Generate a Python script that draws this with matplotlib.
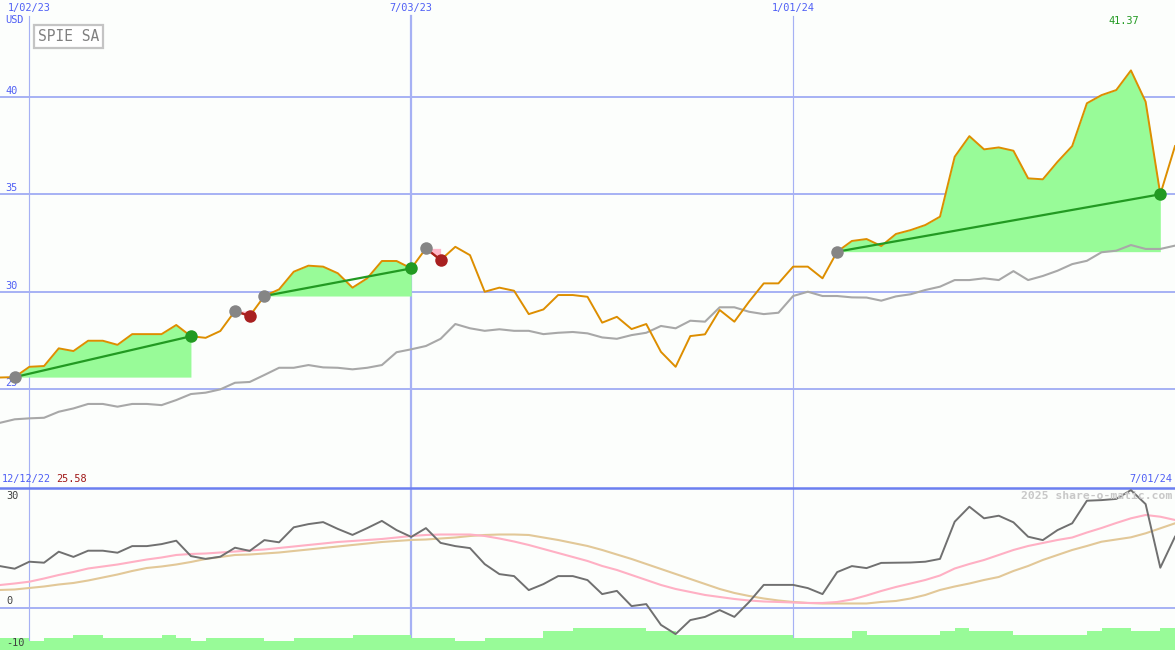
import matplotlib
matplotlib.use('Agg')
import matplotlib.pyplot as plt
import matplotlib.transforms as mtransforms
import numpy as np
import pandas as pd

# weekly closes, SPIE SA (USD)
dates = pd.date_range('2022-12-19', periods=81, freq='7D')

price = [25.58, 25.60, 26.13, 26.17, 27.08, 26.94, 27.47, 27.47, 27.26, 27.81,
         27.81, 27.81, 28.28, 27.70, 27.62, 27.97, 29.00, 28.74, 29.77, 30.11,
         31.02, 31.33, 31.28, 30.94, 30.20, 30.68, 31.57, 31.57, 31.19, 32.22,
         31.62, 32.30, 31.87, 29.99, 30.20, 30.04, 28.84, 29.08, 29.82, 29.82,
         29.73, 28.40, 28.70, 28.07, 28.33, 26.90, 26.13, 27.71, 27.80, 29.05,
         28.45, 29.48, 30.42, 30.42, 31.28, 31.28, 30.68, 32.05, 32.60, 32.70,
         32.34, 32.96, 33.16, 33.42, 33.85, 36.93, 37.99, 37.31, 37.41, 37.24,
         35.82, 35.77, 36.67, 37.48, 39.68, 40.10, 40.36, 41.37, 39.76, 35.00,
         37.48]

bench = [23.25, 23.43, 23.48, 23.51, 23.82, 23.99, 24.22, 24.22, 24.08, 24.22,
         24.22, 24.16, 24.42, 24.73, 24.80, 24.97, 25.31, 25.35, 25.71, 26.08,
         26.08, 26.22, 26.10, 26.08, 26.00, 26.08, 26.22, 26.88, 27.03, 27.20,
         27.57, 28.33, 28.11, 27.98, 28.06, 27.98, 27.98, 27.81, 27.88, 27.92,
         27.85, 27.64, 27.57, 27.76, 27.88, 28.23, 28.11, 28.50, 28.45, 29.19,
         29.19, 28.96, 28.84, 28.91, 29.77, 29.99, 29.77, 29.77, 29.70, 29.69,
         29.53, 29.75, 29.86, 30.08, 30.25, 30.59, 30.59, 30.68, 30.59, 31.05,
         30.59, 30.80, 31.07, 31.41, 31.58, 32.02, 32.10, 32.39, 32.19, 32.19,
         32.36]

osc = [10.4, 9.75, 11.5, 11.25, 14.0, 12.7, 14.25, 14.25, 13.75, 15.4,
       15.4, 15.9, 16.75, 12.9, 12.2, 12.75, 15.0, 14.2, 16.9, 16.35,
       20.1, 20.9, 21.4, 19.7, 18.2, 19.9, 21.7, 19.4, 17.7, 19.9,
       16.2, 15.4, 14.9, 10.9, 8.4, 7.9, 4.4, 5.9, 7.9, 7.9,
       6.9, 3.4, 4.2, 0.4, 0.9, -4.3, -6.6, -3.1, -2.3, -0.6,
       -2.3, 1.4, 5.7, 5.7, 5.7, 4.9, 3.4, 8.9, 10.4, 9.9,
       11.2, 11.25, 11.3, 11.5, 12.2, 21.5, 25.25, 22.35, 23.0, 21.35,
       17.75, 16.9, 19.4, 21.1, 26.75, 26.9, 27.2, 29.4, 25.9, 10.0,
       17.75]

osc_fast = [5.67, 6.05, 6.5, 7.3, 8.18, 8.93, 9.8, 10.3, 10.8, 11.43,
            12.05, 12.55, 13.18, 13.43, 13.55, 13.8, 14.05, 14.3, 14.55, 14.93,
            15.3, 15.68, 16.05, 16.43, 16.68, 16.93, 17.18, 17.55, 17.93, 18.18,
            18.3, 18.3, 18.3, 17.93, 17.3, 16.55, 15.68, 14.68, 13.68, 12.68,
            11.68, 10.43, 9.43, 8.18, 6.93, 5.68, 4.68, 3.93, 3.18, 2.68,
            2.18, 1.8, 1.55, 1.43, 1.3, 1.18, 1.18, 1.43, 2.05, 3.05,
            4.18, 5.18, 6.05, 6.93, 8.05, 9.8, 10.93, 11.93, 13.18, 14.43,
            15.43, 16.18, 16.93, 17.55, 18.8, 19.93, 21.18, 22.35, 23.18, 22.75,
            21.93]

osc_slow = [4.43, 4.55, 4.93, 5.3, 5.8, 6.18, 6.8, 7.55, 8.3, 9.18,
            9.93, 10.3, 10.8, 11.43, 12.18, 12.68, 13.18, 13.3, 13.55, 13.8,
            14.18, 14.55, 14.93, 15.3, 15.68, 16.05, 16.43, 16.68, 16.93, 17.05,
            17.3, 17.55, 17.93, 18.18, 18.3, 18.3, 18.18, 17.55, 16.93, 16.18,
            15.43, 14.43, 13.3, 12.18, 10.93, 9.68, 8.43, 7.18, 5.93, 4.68,
            3.68, 2.93, 2.3, 1.8, 1.43, 1.18, 1.05, 1.05, 1.05, 1.05,
            1.43, 1.68, 2.3, 3.18, 4.43, 5.3, 6.05, 6.93, 7.68, 9.18,
            10.43, 11.93, 13.18, 14.43, 15.43, 16.5, 17.05, 17.6, 18.6, 19.85,
            21.1]

volume = [12, 12, 9, 12, 12, 15, 15, 12, 12, 12,
          12, 15, 12, 9, 12, 12, 12, 12, 9, 9,
          12, 12, 12, 12, 15, 15, 15, 15, 12, 12,
          12, 9, 9, 12, 12, 12, 12, 19, 19, 22,
          22, 22, 22, 22, 19, 19, 15, 15, 15, 15,
          15, 15, 15, 15, 12, 12, 12, 12, 19, 15,
          15, 15, 15, 15, 19, 22, 19, 19, 19, 15,
          15, 15, 15, 15, 19, 22, 22, 19, 19, 22,
          22]

entries = [1, 16, 18, 29, 57]
exits = [13, 17, 28, 30, 79]

grid_dates = pd.to_datetime(['2023-01-02', '2023-07-03', '2024-01-01'])
grid_labels = ['1/02/23', '7/03/23', '1/01/24']
price_ticks = [40, 35, 30, 25]

bg = '#fcfefc'
grid_blue = '#a6b1f4'
label_blue = '#4f5ff5'
mono = 'DejaVu Sans Mono'

W, H = 1175, 650
fig = plt.figure(figsize=(W / 100, H / 100), dpi=100, facecolor=bg)

top_h = 487
ax = fig.add_axes([0, (H - top_h) / H, 1, top_h / H])
ax_vol = fig.add_axes([0, 0, 1, (H - top_h) / H])
ax2 = fig.add_axes([0, 0, 1, (H - top_h) / H])

for a in (ax, ax_vol, ax2):
    a.set_xlim(dates[0], dates[-1])
    a.axis('off')
ax.set_facecolor(bg)
ax_vol.set_facecolor(bg)
ax2.patch.set_visible(False)
ax.patch.set_visible(True)
ax_vol.patch.set_visible(True)

# ---- price panel ----
ax.set_ylim(19.95, 44.99)
for d, lab in zip(grid_dates, grid_labels):
    lw = 1.6 if lab == '7/03/23' else 0.85
    ax.axvline(d, ymin=0, ymax=1 - 16 / top_h, color=grid_blue, lw=lw, zorder=0)
    ax.text(d, 1 - 8 / top_h, lab, transform=mtransforms.blended_transform_factory(ax.transData, ax.transAxes),
            ha='center', va='center', color=label_blue, fontsize=7.4, family=mono)
for t in price_ticks:
    ax.axhline(t, color=grid_blue, lw=1.4, zorder=0)
    ax.text(5 / W, t + 0.05, str(t), transform=mtransforms.blended_transform_factory(ax.transAxes, ax.transData),
            ha='left', va='bottom', color=label_blue, fontsize=7.4, family=mono, zorder=1)
ax.text(5 / W, 1 - 20 / top_h, 'USD', transform=ax.transAxes, ha='left', va='center',
        color=label_blue, fontsize=7.4, family=mono)

p = np.array(price)
for e, x in zip(entries, exits):
    seg = slice(e, x + 1)
    win = p[x] > p[e]
    ax.fill_between(dates[seg], p[seg], p[e], color='#98fb98' if win else '#ffb6c8',
                    lw=0, zorder=1)

ax.plot(dates, bench, color='#a8a8a8', lw=1.5, zorder=2)
ax.plot(dates, price, color='#dd8e00', lw=1.4, zorder=3)

for e, x in zip(entries, exits):
    win = p[x] > p[e]
    ax.plot([dates[e], dates[x]], [p[e], p[x]], color='#229a22' if win else '#aa2020', lw=1.6, zorder=4)
    ax.plot(dates[e], p[e], 'o', ms=9, color='#858585', mec='none', zorder=5)
    ax.plot(dates[x], p[x], 'o', ms=9, color='#229a22' if win else '#a82020', mec='none', zorder=5)

imax = int(np.argmax(p))
fig.text(1124 / W, 1 - 21 / H, '%.2f' % p[imax], ha='center', va='center',
         color='#229a22', fontsize=7.4, family=mono)

fig.text(38 / W, 1 - 36.5 / H, 'SPIE SA', ha='left', va='center', color='#808080',
         fontsize=10.5, family=mono,
         bbox=dict(boxstyle='square,pad=0.25', fc='white', ec='#c4c4c4', lw=1.6))

# ---- oscillator panel ----
ax_vol.set_ylim(0, H - top_h)
ax_vol.bar(dates, volume, width=pd.Timedelta(days=7), align='edge', color='#98fb98', lw=0, zorder=1)
for d, lab in zip(grid_dates, grid_labels):
    lw = 1.6 if lab == '7/03/23' else 0.85
    ax_vol.axvline(d, color=grid_blue, lw=lw, zorder=0)

ax2.set_ylim(-10.58, 30.18)
ax2.axhline(30, color='#6b7ff0', lw=1.8, zorder=1, clip_on=False)
ax2.axhline(0, color=grid_blue, lw=1.4, zorder=1)
ax2.plot(dates, osc_slow, color='#e2c898', lw=1.5, zorder=2)
ax2.plot(dates, osc_fast, color='#ffb0c4', lw=1.5, zorder=3)
ax2.plot(dates, osc, color='#707070', lw=1.4, zorder=4)

tr = mtransforms.blended_transform_factory(ax2.transAxes, ax2.transData)
ax2.text(6 / W, 29.2, '30', transform=tr, ha='left', va='top', color='#404040', fontsize=7.4, family=mono)
ax2.text(6 / W, 0.3, '0', transform=tr, ha='left', va='bottom', color='#404040', fontsize=7.4, family=mono)
ax2.text(6 / W, -10.2, '-10', transform=tr, ha='left', va='bottom', color='#404040', fontsize=7.4, family=mono)

fig.text(2 / W, 1 - 479 / H, '12/12/22', ha='left', va='center', color=label_blue, fontsize=7.4, family=mono)
fig.text(56 / W, 1 - 479 / H, '%.2f' % p[0], ha='left', va='center', color='#a01818', fontsize=7.4, family=mono)
fig.text(1172 / W, 1 - 479 / H, '7/01/24', ha='right', va='center', color=label_blue, fontsize=7.4, family=mono)
fig.text(1172 / W, 1 - 496 / H, '2025 share-o-matic.com', ha='right', va='center', color='#c8c8c8',
         fontsize=8.2, family=mono, fontweight='bold')

fig.savefig('out.png', dpi=100, facecolor=bg)
